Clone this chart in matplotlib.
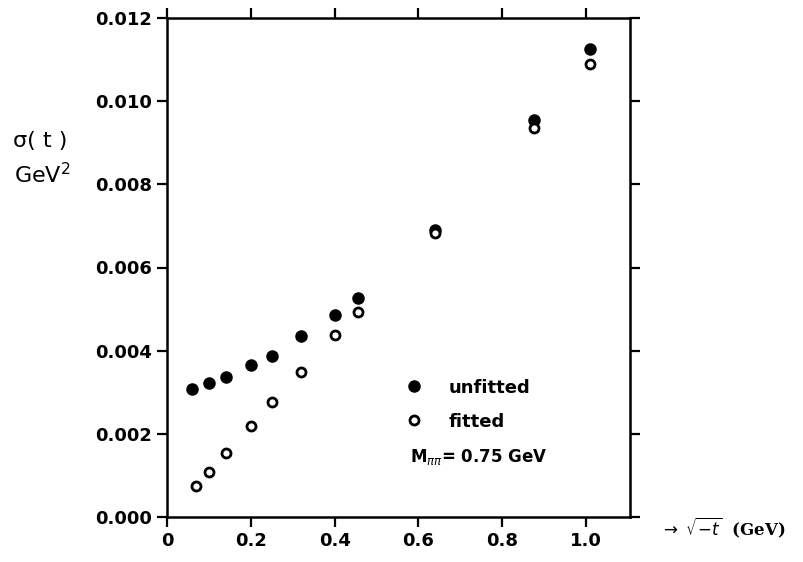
import matplotlib
matplotlib.use('Agg')
import matplotlib.pyplot as plt
from matplotlib.lines import Line2D

# values
x_unfitted = [0.06, 0.10, 0.14, 0.20, 0.25, 0.32, 0.40, 0.455, 0.64, 0.875, 1.01]
y_unfitted = [0.00308, 0.00323, 0.00336, 0.00365, 0.00387, 0.00436, 0.00486,
              0.00526, 0.0069, 0.00954, 0.01125]
x_fitted = [0.07, 0.10, 0.14, 0.20, 0.25, 0.32, 0.40, 0.455, 0.64, 0.875, 1.01]
y_fitted = [0.00075, 0.00108, 0.00154, 0.0022, 0.00276, 0.00349, 0.00438,
            0.00494, 0.00683, 0.00935, 0.0109]

x_ticks = [0, 0.2, 0.4, 0.6, 0.8, 1.0]
x_ticklabels = ['0', '0.2', '0.4', '0.6', '0.8', '1.0']
y_ticks = [0.000, 0.002, 0.004, 0.006, 0.008, 0.010, 0.012]
y_ticklabels = ['0.000', '0.002', '0.004', '0.006', '0.008', '0.010', '0.012']

fig = plt.figure(figsize=(8.04, 5.62), dpi=100)
ax = fig.add_axes([167 / 804, 1 - 517 / 562, 463 / 804, 499 / 562])

ax.plot(x_unfitted, y_unfitted, 'o', color='black', ms=8, mec='black')
ax.plot(x_fitted, y_fitted, 'o', mfc='white', mec='black', ms=6.5, mew=2)

ax.set_xlim(0, 1.105)
ax.set_ylim(0, 0.012)
ax.set_xticks(x_ticks)
ax.set_xticklabels(x_ticklabels)
ax.set_yticks(y_ticks)
ax.set_yticklabels(y_ticklabels)
ax.tick_params(direction='out', length=7, width=1.6, top=True, right=True,
               labelsize=13, pad=4)
for lab in ax.get_xticklabels() + ax.get_yticklabels():
    lab.set_fontweight('bold')
for sp in ax.spines.values():
    sp.set_linewidth(1.8)

# legend block
handles = [Line2D([], [], ls='', marker='o', color='black', ms=8),
           Line2D([], [], ls='', marker='o', mfc='white', mec='black', ms=6.5, mew=2)]
leg = ax.legend(handles, ['unfitted', 'fitted'], loc='upper left',
                bbox_to_anchor=(0.478, 0.31), frameon=False, handlelength=1.0,
                handletextpad=1.45, labelspacing=0.9,
                prop={'size': 13, 'weight': 'bold'})
ax.text(0.525, 0.12, r'$\mathbf{M}_{\pi\pi}$= 0.75 GeV', transform=ax.transAxes,
        fontsize=12, fontweight='bold', va='center', ha='left')

# axis titles
fig.text(13 / 804, 1 - 141 / 562, '\u03c3( t )', fontsize=16, va='center', ha='left')
fig.text(14 / 804, 1 - 175 / 562, r'GeV$^2$', fontsize=16, va='center', ha='left')
fig.text(660 / 804, 1 - 528 / 562, r'$\rightarrow\ \sqrt{-t}$  (GeV)', fontsize=12,
         family='DejaVu Serif', fontweight='bold', va='center', ha='left')

fig.savefig('out.png', dpi=100)
